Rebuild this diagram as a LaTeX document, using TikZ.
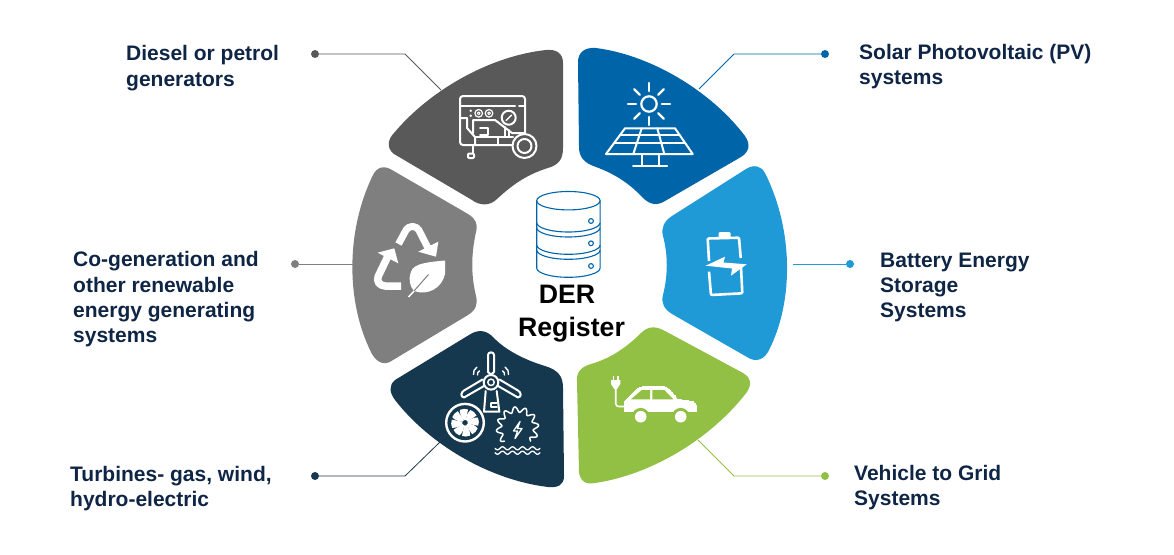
\documentclass[tikz,border=0pt]{standalone}
\usepackage{fontspec}
\setmainfont{Liberation Sans}
\definecolor{dieselgrey}{HTML}{595959}
\definecolor{solarblue}{HTML}{0065A8}
\definecolor{batteryblue}{HTML}{1F9AD6}
\definecolor{cogengrey}{HTML}{7F7F7F}
\definecolor{turbinenavy}{HTML}{16384F}
\definecolor{vehiclegreen}{HTML}{92C045}
\definecolor{labelnavy}{HTML}{0F2545}
\tikzset{
  dotmark/.style={circle,inner sep=0pt,minimum size=8pt},
  lead/.style={line width=0.8pt},
  itemlabel/.style={anchor=north west,inner sep=0pt,align=left,text=labelnavy,font=\fontsize{21}{25.3}\selectfont\bfseries},
  heading/.style={inner sep=0pt,text=black,font=\fontsize{26.7}{32}\selectfont\bfseries},
  iconline/.style={draw=white,line width=2pt,line cap=round,line join=round},
  dbline/.style={draw=solarblue,line width=1.1pt}
}
\begin{document}
\begin{tikzpicture}[x=1pt,y=-1pt]
\useasboundingbox (0,0) rectangle (1174,554);

\foreach \Name/\PointX/\PointY/\Colour in {dieseldot/315/54/dieselgrey, solardot/825/54/solarblue, batterydot/850/264/batteryblue, cogendot/295/264/cogengrey, turbinedot/315/476/turbinenavy, vehicledot/825/476/vehiclegreen}
\node[dotmark,fill=\Colour] (\Name) at (\PointX,\PointY) {};
\coordinate (dieselbend) at (405,54);
\coordinate (dieselpetal) at (441,90);
\coordinate (solarbend) at (734,54);
\coordinate (solarpetal) at (699,89);
\coordinate (batterypetal) at (793,264);
\coordinate (cogenpetal) at (354,264);
\coordinate (turbinebend) at (405,476);
\coordinate (turbinepetal) at (440,442);
\coordinate (vehiclebend) at (734,476);
\coordinate (vehiclepetal) at (698,440);
\draw[lead,dieselgrey] (dieseldot) -- (dieselbend) -- (dieselpetal);
\draw[lead,solarblue] (solardot) -- (solarbend) -- (solarpetal);
\draw[lead,batteryblue] (batterydot) -- (batterypetal);
\draw[lead,cogengrey] (cogendot) -- (cogenpetal);
\draw[lead,turbinenavy] (turbinedot) -- (turbinebend) -- (turbinepetal);
\draw[lead,vehiclegreen] (vehicledot) -- (vehiclebend) -- (vehiclepetal);

\fill[dieselgrey] (394,154) .. controls (386,148) and (388,139) .. (394,133)
  .. controls (430,90) and (490,56) .. (546,50)
  .. controls (556,49) and (563,53) .. (563,63) -- (563,148)
  .. controls (563,160) and (558,165) .. (548,168)
  .. controls (525,175) and (510,187) .. (497,199)
  .. controls (490,206) and (480,206) .. (472,200) -- cycle;
\fill[solarblue] (578,62) .. controls (578,53) and (584,47) .. (596,48)
  .. controls (650,55) and (710,90) .. (745,136)
  .. controls (751,145) and (749,152) .. (741,157) -- (665,201)
  .. controls (657,206) and (650,205) .. (642,197)
  .. controls (630,184) and (615,174) .. (596,167)
  .. controls (584,163) and (579,157) .. (579,147) -- cycle;
\fill[batteryblue] (672,216) -- (746,169)
  .. controls (754,164) and (761,166) .. (765,173)
  .. controls (793.5,230) and (793.5,300) .. (770,348)
  .. controls (765,360) and (756,363) .. (747,357) -- (672,314)
  .. controls (664,309) and (661,303) .. (663,295)
  .. controls (668,275) and (668,255) .. (663,236)
  .. controls (661,228) and (664,221) .. (672,216) -- cycle;
\fill[cogengrey] (468,214) -- (392,170)
  .. controls (384,165) and (377,167) .. (373,175)
  .. controls (346,230) and (346,300) .. (370,350)
  .. controls (375,362) and (384,367) .. (393,360) -- (468,315)
  .. controls (476,310) and (478,304) .. (476,296)
  .. controls (471,275) and (471,255) .. (476,232)
  .. controls (478,224) and (476,219) .. (468,214) -- cycle;
\fill[turbinenavy] (395,380) -- (469,335)
  .. controls (478,329) and (486,330) .. (493,337)
  .. controls (505,350) and (525,360) .. (545,366)
  .. controls (558,370) and (563,376) .. (563,388) -- (564,476)
  .. controls (564,485) and (558,488) .. (548,487)
  .. controls (490,480) and (430,445) .. (395,400)
  .. controls (389,392) and (389,385) .. (395,380) -- cycle;
\fill[vehiclegreen] (743,373) -- (665,331)
  .. controls (656,326) and (649,326) .. (642,332)
  .. controls (628,346) and (612,358) .. (591,364)
  .. controls (581,367) and (576,372) .. (577,382) -- (579,472)
  .. controls (580,481) and (586,485) .. (595,483)
  .. controls (650,475) and (710,440) .. (747,392)
  .. controls (752,384) and (751,378) .. (743,373) -- cycle;

\draw[dbline] (536.7,200.7) -- (536.7,268) arc[start angle=180,end angle=360,x radius=31.7,y radius=-9.3] -- (600.1,200.7);
\draw[dbline] (568.4,200.7) ellipse [x radius=31.7,y radius=9.2];
\foreach \Level in {222.7,227.7,245,250}
\draw[dbline] (536.7,\Level) arc[start angle=180,end angle=360,x radius=31.7,y radius=-9.3];
\foreach \Level in {221,243.3,266}
\draw[dbline] (591,\Level) circle (2.4);
\node[heading] (dertext) at (567,294.5) {DER};
\node[heading] (registertext) at (571.5,330) {Register};

\node[itemlabel] (diesellabel) at (126,45.5) {Diesel or petrol\\generators};
\node[itemlabel] (solarlabel) at (859,44) {Solar Photovoltaic (PV)\\systems};
\node[itemlabel] (batterylabel) at (880,252.5) {Battery Energy\\Storage\\Systems};
\node[itemlabel] (cogenlabel) at (73,251.5) {Co-generation and\\other renewable\\energy generating\\systems};
\node[itemlabel] (turbinelabel) at (70,466) {Turbines- gas, wind,\\hydro-electric};
\node[itemlabel] (vehiclelabel) at (854,465) {Vehicle to Grid\\Systems};

\draw[iconline,rounded corners=3pt] (460,118) -- (460,96) -- (525,96) -- (525,140);
\draw[iconline,rounded corners=3pt] (460,118) -- (460,145) -- (514,145);
\draw[iconline] (460,106) -- (515,106) (519,106) -- (525,106);
\draw[iconline] (460,118) -- (467,118) -- (467,128) -- (475,137) -- (475,145);
\draw[iconline] (473,133) -- (473,120) -- (495,120) -- (512,133) -- (525,133);
\draw[iconline] (480,128) -- (488,128) -- (488,135) -- (480,135);
\draw[iconline] (475,137) -- (498,137) -- (513,137);
\draw[iconline] (498,137) -- (498,145);
\draw[iconline] (505,127) -- (505,137) (509,130) -- (509,137);
\foreach \Level in {478.7,489}{
\draw[iconline,line width=1.2pt] (\Level,113.3) circle (3.8);
\draw[iconline,line width=1pt] (\Level,113.3) circle (1.4);
}
\fill[white] (470.7,110.7) circle (1.4) (470.7,115.7) circle (1.4);
\draw[iconline,fill=dieselgrey] (508.7,117.7) circle (7);
\draw[iconline,line width=1.4pt] (506,120.5) -- (511.5,115);
\draw[iconline] (473.3,145) -- (473.3,153);
\draw[iconline,rounded corners=1pt] (468,158) rectangle (474,153.5);
\draw[iconline,fill=dieselgrey] (524.5,146) circle (12);
\draw[iconline] (524.5,146) circle (7);

\draw[iconline,line width=2.2pt] (649,104) circle (7.7);
\foreach \Level in {0,45,...,315}
\draw[iconline,line width=2.2pt] ({649+13*cos(\Level)},{104+13*sin(\Level)}) -- ({649+21*cos(\Level)},{104+21*sin(\Level)});
\draw[iconline] (625,128.3) -- (675,128.3) -- (692.7,154) -- (606,154) -- cycle;
\draw[iconline] (620.5,135) -- (679.5,135) (614.5,142.7) -- (685,142.7);
\draw[iconline] (641.7,128.3) -- (633.3,154) (657.3,128.3) -- (664.3,154);
\draw[iconline] (641.7,154) -- (641.7,166) (659.3,154) -- (659.3,166) (633,166) -- (667,166);

\draw[iconline,line width=7pt,line cap=butt,rounded corners=4pt] (398.5,244) -- (408,226.5) -- (417,226.5) -- (428,248);
\fill[white] (418.3,251.7) -- (438.3,241.7) -- (436,256.7) -- cycle;
\draw[iconline,line width=7.5pt,line cap=butt,rounded corners=4pt] (387.5,257) -- (376.5,280) -- (381,286) -- (401,286);
\fill[white] (377.7,252.7) -- (394.3,248.3) -- (398.3,263.3) -- cycle;
\fill[white] (445,260.5) .. controls (430,262) and (413,263) .. (411,272)
  .. controls (408,280) and (410,286) .. (414,291)
  .. controls (428,296) and (442,288) .. (445,274) -- cycle;
\draw[line width=1.5pt,white] (408.5,297) -- (416,289);
\draw[line width=1pt,cogengrey] (414,291) -- (428.5,274.5);

\fill[white] (718.5,238) -- (718.5,233) -- (720,232) -- (729,232) -- (730.5,233) -- (730.5,238) -- cycle;
\draw[iconline,line width=2.6pt,line cap=butt,rounded corners=1pt] (709,261) -- (707.7,238.5) -- (739,237.7) -- (740.7,258);
\draw[iconline,line width=2.6pt,line cap=butt,rounded corners=1pt] (709,271.7) -- (711,295) -- (742.3,293.3) -- (741,267);
\fill[white] (705.7,265.7) -- (725,256.7) -- (723.5,262.5) -- (746.7,264.3) -- (731,275.7) -- (732,268.5) -- cycle;

\draw[iconline] (491,374.5) -- (488,372) -- (488,355) .. controls (488,351.5) and (494,351.5) .. (494,355) -- (494,372) -- (491,374.5);
\draw[iconline] (484,386) -- (464,397.5) .. controls (460,397) and (461,392) .. (464,390.5) -- (482.5,379.5);
\draw[iconline] (498,386) -- (518,397.5) .. controls (522,397) and (521,392) .. (518,390.5) -- (499.5,379.5);
\draw[iconline] (491,382.3) circle (7.3);
\draw[iconline,line width=1.5pt] (491,382.3) circle (3.2);
\draw[iconline] (485.7,391) -- (484,411.7) -- (499.3,411.7) -- (496.7,391);
\draw[iconline,line width=1.5pt] (491,403) -- (496.5,403) (491,407) -- (497,407) (491,403) -- (491,407);
\draw[iconline,line width=1.4pt] (473.5,374.5) arc[start angle=170,end angle=240,radius=7];
\draw[iconline,line width=1.4pt] (477.5,375) arc[start angle=170,end angle=240,radius=4];
\draw[iconline,line width=1.4pt] (508.5,374.5) arc[start angle=10,end angle=-60,radius=7];
\draw[iconline,line width=1.4pt] (504.5,375) arc[start angle=10,end angle=-60,radius=4];
\draw[iconline,line width=2.4pt] (465,422.7) circle (18.8);
\foreach \Level in {0,45,...,315}
\fill[white,rotate around={\Level:(465,422.7)}] (466,420) .. controls (466,416) and (468,412) .. (470.5,410)
  .. controls (473,411) and (475.5,413) .. (476.5,415.5) -- (467.5,421.5) -- cycle;
\fill[turbinenavy] (465,422.7) circle (1.8);
\draw[iconline,line width=1.5pt] plot[domain=-45:225,samples=220] ({517.5+(18.5+2.7*sin(12*\x))*cos(\x)},{428-(18.5+2.7*sin(12*\x))*sin(\x)});
\draw[iconline,line width=1.3pt] (520,421.5) -- (513.5,431) -- (517.5,431) -- (515,438.5) -- (522,428.5) -- (517.5,428.5) -- cycle;
\foreach \Level in {448.3,452.7}
\draw[iconline,line width=1.3pt] plot[domain=0:45,samples=90] ({495+\x},{\Level+1.5*sin(36*\x)});

\draw[iconline,fill=white,line width=0pt] (624.3,411.7) -- (624.3,401.7) -- (635,390.7) .. controls (638,388) and (640,386.7) .. (643,386.7) -- (664,386.7) .. controls (667,386.7) and (670,389) .. (677.7,399.3) -- (690,401) .. controls (695,402) and (696.7,404) .. (696.7,408) -- (696.7,411.7) -- cycle;
\fill[vehiclegreen] (631,399.3) -- (641.7,390) -- (650,390) -- (650,399.3) -- cycle;
\fill[vehiclegreen] (652.3,390) -- (664.3,390) -- (673.3,399.3) -- (652.3,399.3) -- cycle;
\foreach \Level in {640.7,680.7}{
\fill[vehiclegreen] (\Level,416.7) circle (8.8);
\fill[white] (\Level,416.7) circle (5.8);
}
\draw[iconline,line width=1.6pt,rounded corners=3pt] (615.7,388) -- (615.7,406.5) -- (624.5,406.5);
\fill[white] (611,380) -- (620.3,380) -- (620.3,384) -- (617,389) -- (614.3,389) -- (611,384) -- cycle;
\draw[iconline,line width=1.3pt,line cap=butt] (613.3,376) -- (613.3,380) (618,376) -- (618,380);
\end{tikzpicture}
\end{document}
